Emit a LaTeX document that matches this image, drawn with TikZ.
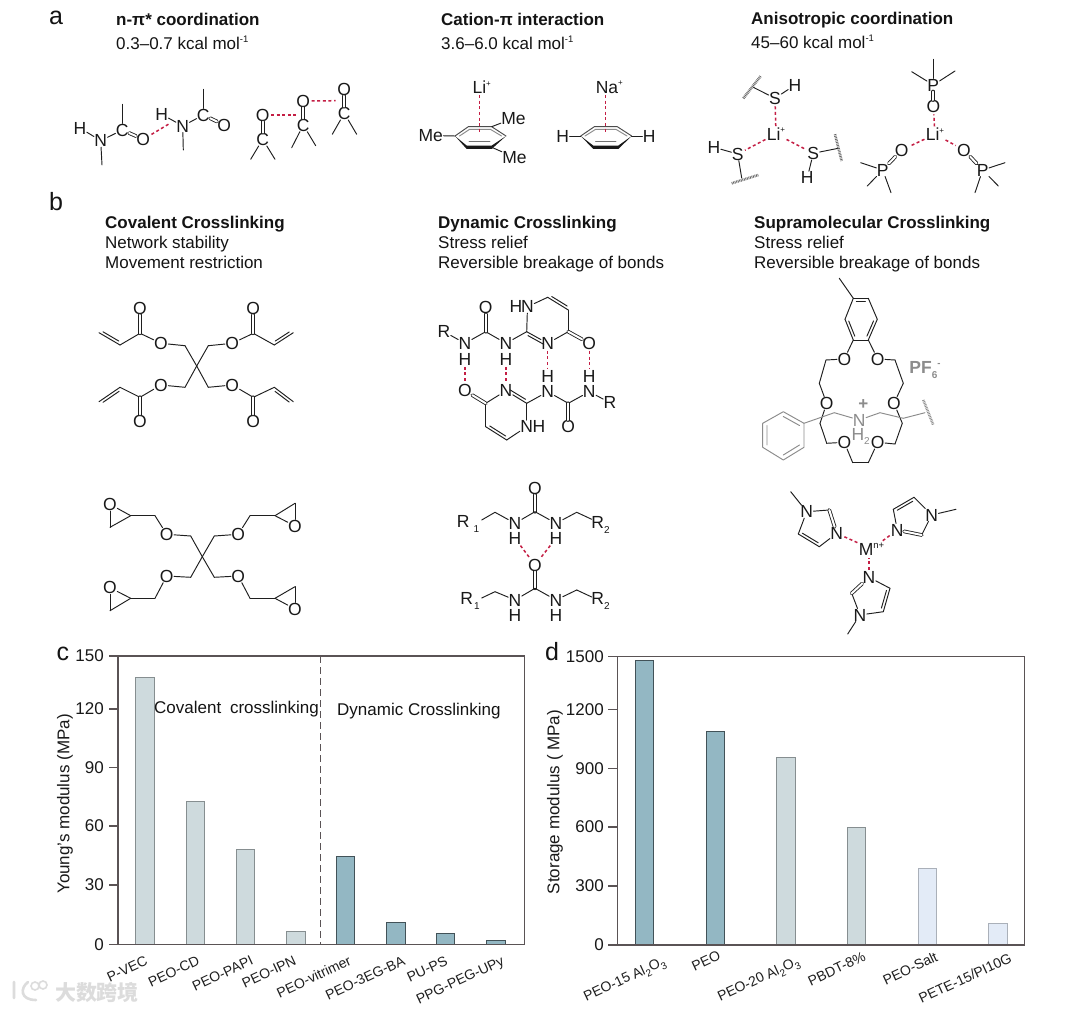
\documentclass[tikz,border=0pt]{standalone}
\usepackage{fontspec}
\setmainfont{Liberation Sans}
\newfontfamily\cjkwm{Noto Sans CJK SC}
\usetikzlibrary{calc}
\definecolor{hbred}{HTML}{C41E44}
\definecolor{teal}{HTML}{93B7C3}
\definecolor{pale}{HTML}{CEDADD}
\definecolor{sky}{HTML}{E3EBF7}
\definecolor{axisc}{HTML}{5A5355}
\definecolor{gchem}{HTML}{8C8C8C}
\definecolor{wm}{HTML}{DCDCDC}
\newcommand\lsb[1]{\raisebox{-.28em}{\fontsize{10}{10}\selectfont #1}}
\newcommand\lsp[1]{\raisebox{.42em}{\fontsize{9.5}{10}\selectfont #1}}
\newcommand\lspt[1]{\raisebox{.42em}{\fontsize{8}{9}\selectfont #1}}
\newcommand\myAt[3]{\node[atom] (#1) at (#2) {#3};}
\newcommand\myPt[2]{\coordinate (#1) at (#2);}
\newcommand\Bnd[1]{\foreach \p/\q in {#1}{\draw[bond] (\p)--(\q);}}
\newcommand\Dbl[1]{\foreach \p/\q in {#1}{\draw[bond,dblb] (\p)--(\q);}}
\newcommand\Hb[1]{\foreach \p/\q in {#1}{\draw[hb] (\p)--(\q);}}
\newcommand\OneR[3]{\draw[bond] (#1)--(#2); \draw[bond,shorten <=3pt,shorten >=3pt] ($(#1)!2.8pt!#3:(#2)$) -- ($(#2)!2.8pt!-#3:(#1)$);}
\tikzset{
 x=1pt,y=-1pt,
 atom/.style={font=\fontsize{17.5}{18}\selectfont,inner sep=0.3pt,text=black!90},
 bond/.style={draw=black!88,line width=0.95pt,line cap=round,line join=round},
 dblb/.style={double,double distance=2pt,line width=0.85pt},
 hb/.style={draw=hbred,line width=1.5pt,dash pattern=on 3pt off 2.6pt,shorten <=1pt,shorten >=1pt},
 hash/.style={draw=black!60,line width=2.6pt,dash pattern=on .8pt off .8pt},
 grayb/.style={bond,draw=gchem},
 grayatom/.style={atom,text=gchem},
 txt/.style={font=\fontsize{17}{18}\selectfont,inner sep=0,anchor=base west,text=black!92},
 ttl/.style={font=\fontsize{17}{18}\selectfont\bfseries,inner sep=0,anchor=base west,text=black!92},
 panel/.style={font=\fontsize{25}{25}\selectfont,inner sep=0,anchor=base west,text=black!92},
 tick/.style={font=\fontsize{17}{18}\selectfont,inner sep=0,anchor=east,text=black!90},
 xlab/.style={font=\fontsize{14}{16}\selectfont,inner sep=0,anchor=north east,rotate=25,text=black!88},
 ylab/.style={font=\fontsize{17}{18}\selectfont,inner sep=0,rotate=90,text=black!90},
 frame/.style={draw=axisc,line width=1.1pt},
 bart/.style={fill=teal,draw=black!55!teal,line width=1pt},
 barp/.style={fill=pale,draw=black!35!pale,line width=1pt},
 bars/.style={fill=sky,draw=black!25!sky,line width=1pt},
}
\begin{document}
\begin{tikzpicture}
\useasboundingbox (0,0) rectangle (1080,1011);
\fill[white] (0,0) rectangle (1080,1011);

% ---------- panel letters and headings
\node[panel] (la) at (49,25) {a};
\node[panel] (lb) at (49,211) {b};
\node[panel] (lc) at (56.5,660) {c};
\node[panel] (ld) at (545,660) {d};

\node[ttl] (t1) at (116,25.5) {n-π* coordination};
\node[txt] (s1) at (116,49.5) {0.3–0.7 kcal mol\lsp{-1}};
\node[ttl] (t2) at (441,26) {Cation-π interaction};
\node[txt] (s2) at (441,49.5) {3.6–6.0 kcal mol\lsp{-1}};
\node[ttl] (t3) at (751,24.5) {Anisotropic coordination};
\node[txt] (s3) at (751,48.5) {45–60 kcal mol\lsp{-1}};

\node[ttl] (b1) at (105,228.5) {Covalent Crosslinking};
\node[txt] (b1a) at (105,248.5) {Network stability};
\node[txt] (b1b) at (105,268.5) {Movement restriction};
\node[ttl] (b2) at (438,228.5) {Dynamic Crosslinking};
\node[txt] (b2a) at (438,248.5) {Stress relief};
\node[txt] (b2b) at (438,268.5) {Reversible breakage of bonds};
\node[ttl] (b3) at (754,228.5) {Supramolecular Crosslinking};
\node[txt] (b3a) at (754,248.5) {Stress relief};
\node[txt] (b3b) at (754,268.5) {Reversible breakage of bonds};

% ---------- a: n-pi*
\myAt{aH1}{80,128}{H}\myAt{aN1}{100.7,140.7}{N}\myAt{aC1}{122.3,130}{C}\myAt{aO1}{143.3,139.3}{O}
\myPt{am1}{122.3,104.3}\myPt{am2}{102,165}
\Bnd{aH1/aN1,aN1/aC1,aC1/am1,aN1/am2}\Dbl{aC1/aO1}
\myAt{aH2}{161.7,114.3}{H}\myAt{aN2}{182.7,126}{N}\myAt{aC2}{203.3,115}{C}\myAt{aO2}{224.3,125}{O}
\myPt{am3}{203.3,89.3}\myPt{am4}{183.3,150}
\Bnd{aH2/aN2,aN2/aC2,aC2/am3,aN2/am4}\Dbl{aC2/aO2}
\myPt{ad1}{170,123.3}
\Hb{aO1/ad1}
\myAt{kO1}{262.7,115}{O}\myAt{kC1}{262.7,139.3}{C}\myPt{kl1}{250.7,159.3}\myPt{kr1}{275,159.3}
\myAt{kO2}{303.3,101}{O}\myAt{kC2}{303.3,125}{C}\myPt{kl2}{291.7,147.7}\myPt{kr2}{315.7,145.7}
\myAt{kO3}{344.3,89.3}{O}\myAt{kC3}{344.3,113.3}{C}\myPt{kl3}{332.3,134.3}\myPt{kr3}{356.7,134.3}
\Dbl{kC1/kO1,kC2/kO2,kC3/kO3}
\Bnd{kC1/kl1,kC1/kr1,kC2/kl2,kC2/kr2,kC3/kl3,kC3/kr3}
\myPt{kd1}{296.7,115}\myPt{kd2}{336.7,100.7}
\Hb{kO1/kd1,kO2/kd2}

% ---------- a: cation-pi
\myAt{cLi}{481.7,87.3}{Li\lspt{+}}
\myPt{c1}{455,136}\myPt{c2}{468.3,126.7}\myPt{c3}{491.7,126.7}\myPt{c4}{506,136}\myPt{c5}{491.7,147.3}\myPt{c6}{466.7,147.3}\myPt{cc}{479.3,132.7}
\draw[bond,draw=black!70] (c1)--(c2)--(c3)--(c4);
\draw[bond,draw=black!45] (459.5,136)--(469.5,129.4)--(490.5,129.4)--(501.5,136);
\fill[black!90] (c1)--(466.7,145.6)--(491.7,145.6)--(c4)--(491.7,149)--(466.7,149)--cycle;
\draw[bond,draw=black!55] (469,141.7)--(490,141.7);
\draw[hb] (cc |- cLi.south)--(cc);
\myAt{cMe1}{430.7,135.5}{Me}\myAt{cMe2}{513.5,118.3}{Me}\myAt{cMe3}{514.5,157.3}{Me}
\Bnd{cMe1/c1,cMe2/c3,cMe3/c5}

\myAt{nNa}{609.3,87.3}{Na\lspt{+}}
\myPt{n1}{580.7,136}\myPt{n2}{594.3,126.7}\myPt{n3}{617.3,126.7}\myPt{n4}{631.7,136}\myPt{n5}{618.3,147.3}\myPt{n6}{593.3,147.3}\myPt{nc}{605.7,132.7}
\draw[bond,draw=black!70] (n1)--(n2)--(n3)--(n4);
\draw[bond,draw=black!45] (585,136)--(595.5,129.4)--(616,129.4)--(627,136);
\fill[black!90] (n1)--(593.3,145.6)--(618.3,145.6)--(n4)--(618.3,149)--(593.3,149)--cycle;
\draw[bond,draw=black!55] (595.5,141.7)--(616,141.7);
\draw[hb] (nc |- nNa.south)--(nc);
\myAt{nH1}{562.7,136}{H}\myAt{nH2}{649.3,136}{H}
\Bnd{nH1/n1,nH2/n4}

% ---------- a: anisotropic, S
\myAt{sLi}{776,134}{Li\lspt{+}}
\myAt{sS1}{775,98.3}{S}\myAt{sH1}{795,85}{H}\myPt{sa1}{753.3,87.3}\myPt{sh1a}{743.3,98.3}\myPt{sh1b}{760.7,76}
\Bnd{sS1/sH1,sS1/sa1}\draw[hash] (sh1a)--(sh1b);
\myAt{sS2}{737.7,154}{S}\myAt{sH2}{714,147.3}{H}\myPt{sa2}{741.7,178}\myPt{sh2a}{731.7,183.3}\myPt{sh2b}{758.3,175}
\Bnd{sS2/sH2,sS2/sa2}\draw[hash] (sh2a)--(sh2b);
\myAt{sS3}{813.3,153.3}{S}\myAt{sH3}{807.3,177.7}{H}\myPt{sa3}{838.3,148.3}\myPt{sh3a}{835,134.3}\myPt{sh3b}{841.7,161}
\Bnd{sS3/sH3,sS3/sa3}\draw[hash] (sh3a)--(sh3b);
\Hb{sLi/sS1,sLi/sS2,sLi/sS3}

% ---------- a: anisotropic, P=O
\myAt{pLi}{935,134.3}{Li\lspt{+}}
\myAt{pP1}{933.3,85}{P}\myAt{pO1}{933.3,106.7}{O}
\myPt{pa1}{933.3,59.3}\myPt{pb1}{911.7,71.7}\myPt{pc1}{955,71}
\Bnd{pP1/pa1,pP1/pb1,pP1/pc1}\Dbl{pP1/pO1}
\myAt{pP2}{882.7,170}{P}\myAt{pO2}{901.7,150}{O}
\myPt{pa2}{860.7,162.7}\myPt{pb2}{867.3,186}\myPt{pc2}{891,192.7}
\Bnd{pP2/pa2,pP2/pb2,pP2/pc2}\Dbl{pP2/pO2}
\myAt{pP3}{982.7,170}{P}\myAt{pO3}{964,150}{O}
\myPt{pa3}{1005,162.7}\myPt{pb3}{998.3,186}\myPt{pc3}{975,192.7}
\Bnd{pP3/pa3,pP3/pb3,pP3/pc3}\Dbl{pP3/pO3}
\Hb{pLi/pO1,pLi/pO2,pLi/pO3}

% ---------- b: tetra-acrylate
\myPt{tq}{196.7,366}
\myPt{t1a}{185,345.7}\myAt{t1O}{161,343.3}{O}\myPt{t1C}{140,333.3}\myAt{t1D}{140,308.3}{O}\myPt{t1E}{120,345}\myPt{t1F}{99,332.7}
\myPt{t2a}{208.3,345.7}\myAt{t2O}{232.3,343.3}{O}\myPt{t2C}{253.3,333.3}\myAt{t2D}{253.3,308.3}{O}\myPt{t2E}{274.3,345}\myPt{t2F}{293.3,332.7}
\myPt{t3a}{185,387.3}\myAt{t3O}{161,385}{O}\myPt{t3C}{140,397.3}\myAt{t3D}{140,421}{O}\myPt{t3E}{120,387.3}\myPt{t3F}{99,401.7}
\myPt{t4a}{208.3,387.3}\myAt{t4O}{232.3,385}{O}\myPt{t4C}{253.3,397.3}\myAt{t4D}{253.3,421}{O}\myPt{t4E}{274.3,387.3}\myPt{t4F}{293.3,401.7}
\Bnd{tq/t1a,t1a/t1O,t1O/t1C,t1C/t1E,tq/t2a,t2a/t2O,t2O/t2C,t2C/t2E,tq/t3a,t3a/t3O,t3O/t3C,t3C/t3E,tq/t4a,t4a/t4O,t4O/t4C,t4C/t4E}
\Dbl{t1C/t1D,t2C/t2D,t3C/t3D,t4C/t4D}
\OneR{t1E}{t1F}{-90}\OneR{t2E}{t2F}{90}\OneR{t3E}{t3F}{90}\OneR{t4E}{t4F}{-90}

% ---------- b: tetra-epoxide
\myPt{eq}{202.3,556.7}
\myPt{e1a}{190.7,536}\myAt{e1O}{166.7,534.3}{O}\myPt{e1C}{155,515.7}\myPt{e1D}{130.7,515.7}\myAt{e1P}{110,504.3}{O}\myPt{e1E}{110,527.3}
\myPt{e2a}{214.3,536}\myAt{e2O}{238.3,534.3}{O}\myPt{e2C}{250,515.7}\myPt{e2D}{275,515.7}\myAt{e2P}{295,526}{O}\myPt{e2E}{295,503.3}
\myPt{e3a}{190.7,577.3}\myAt{e3O}{166.7,576}{O}\myPt{e3C}{155,598.3}\myPt{e3D}{130.7,598.3}\myAt{e3P}{110,587.7}{O}\myPt{e3E}{110,610.7}
\myPt{e4a}{214.3,577.3}\myAt{e4O}{238.3,576}{O}\myPt{e4C}{250,598.3}\myPt{e4D}{275,598.3}\myAt{e4P}{295,609}{O}\myPt{e4E}{295,586.7}
\Bnd{eq/e1a,e1a/e1O,e1O/e1C,e1C/e1D,e1D/e1P,e1P/e1E,e1E/e1D,eq/e2a,e2a/e2O,e2O/e2C,e2C/e2D,e2D/e2P,e2P/e2E,e2E/e2D,eq/e3a,e3a/e3O,e3O/e3C,e3C/e3D,e3D/e3P,e3P/e3E,e3E/e3D,eq/e4a,e4a/e4O,e4O/e4C,e4C/e4D,e4D/e4P,e4P/e4E,e4E/e4D}

% ---------- b: UPy dimer
\myAt{uR1}{444,331.7}{R}\myAt{uN1}{465,343.3}{N}\myAt{uH1}{465,359.3}{H}\myPt{uC1}{485.7,331.7}\myAt{uO1}{485.7,307.7}{O}
\myAt{uN2}{506,343.3}{N}\myAt{uH2}{506,359.3}{H}\myPt{uC2}{526.7,331.7}\myAt{uN4}{527.5,306.7}{N}\myAt{uH4}{516,306.7}{H}
\myAt{uN3}{547.7,343.3}{N}\myPt{uC4}{568.3,331.7}\myAt{uO4}{589.3,343.3}{O}\myPt{uC5}{568.3,310}\myPt{uC6}{547.7,297.3}
\Bnd{uR1/uN1,uN1/uC1,uC1/uN2,uN2/uC2,uC2/uN4,uN3/uC4,uC4/uC5,uC6/uN4}
\Dbl{uC1/uO1,uC4/uO4}
\OneR{uC2}{uN3}{-90}\OneR{uC5}{uC6}{-90}
\myAt{vH1}{547.7,376.7}{H}\myAt{vN1}{547.7,391.7}{N}\myPt{vC1}{568.3,403.3}\myAt{vO1}{568.3,426.7}{O}
\myAt{vN2}{589.3,391.7}{N}\myAt{vH2}{589.3,376.7}{H}\myAt{vR}{610,402.7}{R}
\myAt{vO3}{465,390.7}{O}\myPt{vC3}{485.7,403.3}\myAt{vN3}{506,390.7}{N}\myPt{vC2}{526.7,403.3}
\myAt{vN4}{526.7,426.7}{N}\myAt{vH4}{539,426.7}{H}\myPt{vC5}{485.7,426.7}\myPt{vC6}{506.7,440}
\Bnd{vN1/vC1,vC1/vN2,vN2/vR,vN1/vC2,vC2/vN4,vC3/vN3,vC3/vC5,vC6/vN4}
\Dbl{vC1/vO1,vC3/vO3}
\OneR{vC2}{vN3}{-90}\OneR{vC5}{vC6}{90}
\Hb{uH1/vO3,uH2/vN3,uN3/vH1,uO4/vH2}

% ---------- b: urea dimer
\myAt{wO1}{535,488.3}{O}\myPt{wC1}{535,511.7}\myAt{wN1}{515,523.3}{N}\myAt{wH1}{515,538.3}{H}\myAt{wN2}{556,523.3}{N}\myAt{wH2}{556,538.3}{H}
\myPt{wA1}{495,512.3}\myPt{wA2}{576.7,512.3}\myPt{wE1}{481.7,520}\myPt{wE2}{591.7,519.3}
\myAt{wR1}{468,524}{R\hspace{4pt}\lsb{1}}\myAt{wR2}{600.5,525}{R\lsb{2}}
\Dbl{wC1/wO1}\Bnd{wC1/wN1,wC1/wN2,wN1/wA1,wN2/wA2,wA1/wE1,wA2/wE2}
\myAt{xO}{535,565}{O}\myPt{xC}{535,588.3}\myAt{xN1}{515,600}{N}\myAt{xH1}{515,615}{H}\myAt{xN2}{556,600}{N}\myAt{xH2}{556,615}{H}
\myPt{xA1}{495,591.7}\myPt{xA2}{576.7,590}\myPt{xE1}{481.7,598}\myPt{xE2}{591.7,597}
\myAt{xR1}{470,601}{R\hspace{1pt}\lsb{1}}\myAt{xR2}{600.5,601}{R\lsb{2}}
\Dbl{xC/xO}\Bnd{xC/xN1,xC/xN2,xN1/xA1,xN2/xA2,xA1/xE1,xA2/xE2}
\Hb{wH1/xO,wH2/xO}

% ---------- b: crown ether rotaxane
\myPt{ga1}{853.3,298.3}\myPt{ga2}{868.3,298.3}\myPt{ga3}{877.3,319.3}\myPt{ga4}{868.3,340}\myPt{ga5}{853.3,340}\myPt{ga6}{845,319.3}\myPt{gm}{839.3,278.3}
\Bnd{gm/ga1,ga2/ga3,ga4/ga5,ga6/ga1}
\OneR{ga1}{ga2}{-90}\OneR{ga3}{ga4}{-90}\OneR{ga5}{ga6}{-90}
\myAt{gO1}{844.3,359}{O}\myAt{gO2}{877.7,359}{O}\myAt{gO3}{826.7,403.3}{O}\myAt{gO4}{894,403.3}{O}\myAt{gO5}{844.3,442.3}{O}\myAt{gO6}{877.7,442.3}{O}
\myPt{gb1}{826,360}\myPt{gb2}{819.3,383.3}\myPt{gb3}{895,360}\myPt{gb4}{903.3,383.3}
\myPt{gb5}{820,423.3}\myPt{gb6}{826.7,443.3}\myPt{gb7}{852.7,462.7}\myPt{gb8}{868.3,462.7}\myPt{gb9}{895,444}\myPt{gb0}{902.3,423.3}
\Bnd{ga5/gO1,ga4/gO2,gO1/gb1,gb1/gb2,gb2/gO3,gO2/gb3,gb3/gb4,gb4/gO4,gO3/gb5,gb5/gb6,gb6/gO5,gO5/gb7,gb7/gb8,gb8/gO6,gO6/gb9,gb9/gb0,gb0/gO4}
% guest in grey
\myPt{ph1}{783.3,411.7}\myPt{ph2}{804,423.3}\myPt{ph3}{804,447.3}\myPt{ph4}{783.3,460}\myPt{ph5}{762.7,447.3}\myPt{ph6}{762.7,423.3}
\draw[grayb] (ph1)--(ph2)--(ph3)--(ph4)--(ph5)--(ph6)--cycle;
\draw[grayb] (783.3,416.5)--(799.5,425.5) (799.5,445)--(783.3,455) (767,445)--(767,425.5);
\node[grayatom] (gN) at (859.3,420) {N};
\node[grayatom] (gH) at (858,434) {H};
\node[grayatom,font=\fontsize{10}{10}\selectfont] (gH2) at (867,441) {2};
\node[grayatom,font=\fontsize{17}{17}\selectfont\bfseries] (gPl) at (863.3,405) {+};
\myPt{gc1}{834.3,412.7}\myPt{gc2}{880,412.7}\myPt{gc3}{903.3,418.3}\myPt{gc4}{925,412.7}\myPt{gh1}{923.3,400}\myPt{gh2}{933.3,425}
\draw[grayb] (ph2)--(gc1)--(gN);
\draw[grayb] (gN)--(gc2)--(gc3)--(gc4);
\draw[hash,draw=gchem] (gh1)--(gh2);
\node[grayatom,font=\fontsize{17.5}{18}\selectfont\bfseries] (gPF) at (925,370) {PF\lsb{6}\lsp{-}};

% ---------- b: imidazole complex
\myAt{mM}{871.5,549}{M\lsp{n+}}
\myPt{ma0}{790.7,491.7}\myAt{maN1}{806.7,511.7}{N}\myPt{maC1}{829.3,510}\myAt{maN2}{836.7,533.3}{N}\myPt{maC2}{819.3,546.7}\myPt{maC3}{798.3,534}
\Bnd{ma0/maN1,maN1/maC1,maN2/maC2,maC3/maN1}
\draw[bond,dblb] (maC1)--(maN2);\OneR{maC2}{maC3}{-90}
\myPt{mb0}{956,509.3}\myAt{mbN1}{931.7,515}{N}\myPt{mbC1}{914,497.3}\myPt{mbC2}{893.3,509.3}\myAt{mbN2}{897.3,530}{N}\myPt{mbC3}{921.7,535}
\Bnd{mb0/mbN1,mbN1/mbC1,mbC2/mbN2,mbC3/mbN1}
\OneR{mbC1}{mbC2}{90}\draw[bond,dblb] (mbN2)--(mbC3);
\myAt{mcN1}{869,577.3}{N}\myPt{mcC1}{890,588.3}\myPt{mcC2}{883.3,611.7}\myAt{mcN2}{860,615}{N}\myPt{mc0}{847.7,634}\myPt{mcC3}{851.7,593.3}
\Bnd{mcN1/mcC1,mcC2/mcN2,mcN2/mc0,mcN2/mcC3}
\OneR{mcC1}{mcC2}{-90}\draw[bond,dblb] (mcC3)--(mcN1);
\myPt{mt}{869,557}
\Hb{maN2/mM,mbN2/mM,mcN1/mt}

% ---------- c: chart
\draw[frame] (118,656) rectangle (524.3,944.7);
\foreach \yy/\lab in {656/150,709/120,767.7/90,826/60,885/30,944.7/0}{
  \draw[frame] (109.4,\yy)--(118,\yy);
  \node[tick] at (104,\yy) {\lab};
}
\foreach \xa/\xb/\yt in {135.5/154/677.3,186/204.3/801.7,236/254.5/849.3,286/305/931.7}{
  \draw[barp] (\xa,944.7) rectangle (\xb,\yt);}
\foreach \xa/\xb/\yt in {336/354.7/856,386.8/405/922.3,436.6/454.8/933.3,486.7/505.7/940}{
  \draw[bart] (\xa,944.7) rectangle (\xb,\yt);}
\draw[frame] (118,944.7)--(524.3,944.7);
\draw[axisc,line width=1pt,dash pattern=on 7pt off 4pt] (320.3,656)--(320.3,944.7);
\node[txt] (cCov) at (154,713.5) {Covalent\hspace{4pt} crosslinking};
\node[txt] (cDyn) at (337,715.5) {Dynamic Crosslinking};
\node[ylab] (cY) at (65,804) {Young's modulus (MPa)};
\foreach \xx/\lab in {144.5/P-VEC,196.5/PEO-CD,250/PEO-PAPI,293/PEO-IPN,348/PEO-vitrimer,402/PEO-3EG-BA,444.5/PU-PS,501/PPG-PEG-UPy}{
  \node[xlab] at (\xx,955) {\lab};}

% ---------- d: chart
\draw[frame] (617.7,656.7) rectangle (1024.5,945);
\foreach \yy/\lab in {656.7/1500,709.3/1200,768.3/900,827/600,886/300,945/0}{
  \draw[frame] (608.3,\yy)--(617.7,\yy);
  \node[tick] at (604,\yy) {\lab};
}
\foreach \xa/\xb/\yt in {635.7/653.7/660,706/724.7/731.3}{
  \draw[bart] (\xa,945) rectangle (\xb,\yt);}
\foreach \xa/\xb/\yt in {776.7/795.3/757,847.3/865.7/827.3}{
  \draw[barp] (\xa,945) rectangle (\xb,\yt);}
\foreach \xa/\xb/\yt in {918/936.7/868,988.7/1007.3/923}{
  \draw[bars] (\xa,945) rectangle (\xb,\yt);}
\draw[frame] (617.7,945)--(1024.5,945);
\node[ylab] (dY) at (555,802) {Storage modulus ( MPa)};
\node[xlab] (x1) at (662,955) {PEO-15 Al\lsb{2}O\lsb{3}};
\node[xlab] (x2) at (717.5,950) {PEO};
\node[xlab] (x3) at (796,955) {PEO-20 Al\lsb{2}O\lsb{3}};
\node[xlab] (x4) at (862.5,951) {PBDT-8\%};
\node[xlab] (x5) at (934.5,951) {PEO-Salt};
\node[xlab] (x6) at (1008.5,952) {PETE-15/PI10G};

% ---------- watermark
\node[font=\cjkwm\fontsize{21}{21}\selectfont\bfseries,text=wm,inner sep=0] (wmk) at (97,992) {大数跨境};
\draw[wm,line width=2.6pt,line cap=round] (14,982)--(14,998) (28,982) .. controls (20,988) and (20,1000) .. (36,1000);
\draw[wm,line width=1.6pt] (35,986) circle (4) (43,985) circle (4);
\end{tikzpicture}
\end{document}
